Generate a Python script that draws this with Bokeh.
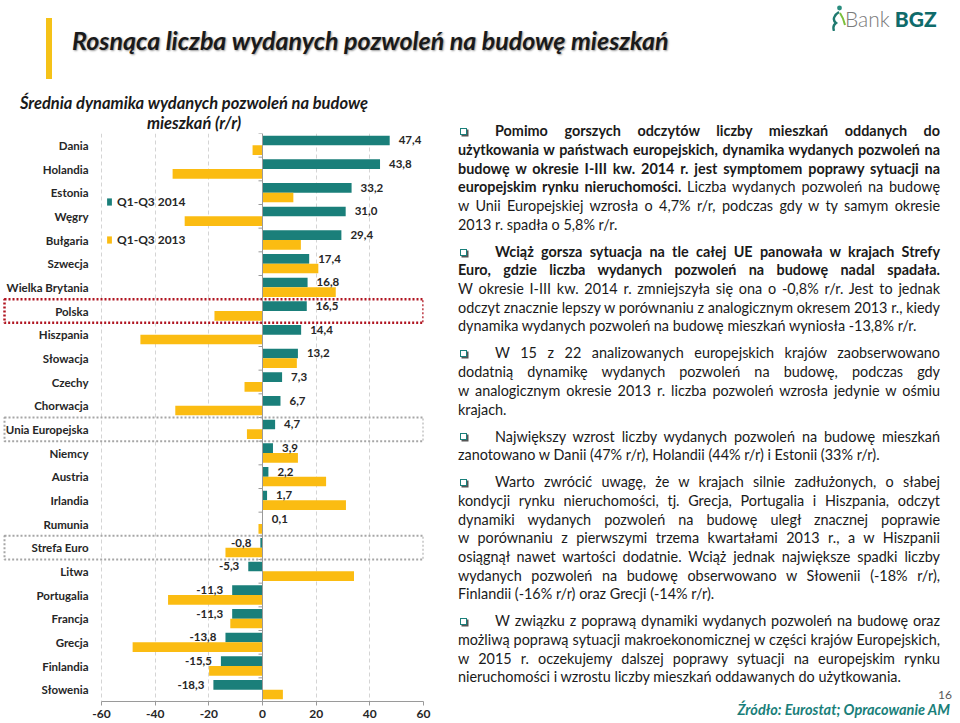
import math
from bokeh.plotting import figure
from bokeh.models import (Range1d, FixedTicker, BoxAnnotation, Span,
                          ColumnDataSource, Div)
from bokeh.layouts import column, row
from bokeh.transform import dodge
from bokeh.core.properties import value
from bokeh.embed import file_html
from bokeh.resources import INLINE

# ---------------- data ----------------
countries = ["Dania", "Holandia", "Estonia", "Węgry", "Bułgaria", "Szwecja",
             "Wielka Brytania", "Polska", "Hiszpania", "Słowacja", "Czechy",
             "Chorwacja", "Unia Europejska", "Niemcy", "Austria", "Irlandia",
             "Rumunia", "Strefa Euro", "Litwa", "Portugalia", "Francja",
             "Grecja", "Finlandia", "Słowenia"]
q2014 = [47.4, 43.8, 33.2, 31.0, 29.4, 17.4, 16.8, 16.5, 14.4, 13.2, 7.3, 6.7,
         4.7, 3.9, 2.2, 1.7, 0.1, -0.8, -5.3, -11.3, -11.3, -13.8, -15.5, -18.3]
q2013 = [-3.7, -33.5, 11.5, -29.0, 14.3, 20.8, 27.3, -17.9, -45.5, 12.8, -6.7,
         -32.5, -5.8, 13.2, 23.7, 31.1, -1.5, -13.8, 34.1, -35.2, -12.0, -48.4,
         -19.9, 7.6]
series_names = ["Q1-Q3 2014", "Q1-Q3 2013"]
x_ticks = [-60, -40, -20, 0, 20, 40, 60]
x_tick_labels = ["-60", "-40", "-20", "0", "20", "40", "60"]
box_red = ["Polska"]
box_gray = ["Unia Europejska", "Strefa Euro"]

TEAL = "#1a7f7a"
YELLOW = "#fbbc12"
FONT = "Lato"
TXT = "#262626"

n = len(countries)
pos = list(range(n))


def fmt(v):
    return f"{v:.1f}".replace(".", ",")


src = ColumnDataSource(dict(
    y=pos, v14=q2014, v13=q2013, country=countries,
    lab=[fmt(v) for v in q2014],
    align=["left" if v >= 0 else "right" for v in q2014],
    xo=[9 if v >= 0 else -9 for v in q2014],
))

# ---------------- chart ----------------
# frame spans from the left page edge; the value scale runs -60..60 on its right part
p = figure(width=448, height=592, x_range=Range1d(-97.64, 60),
           y_range=Range1d(n - 0.5, -0.5), output_backend="svg",
           toolbar_location=None, y_axis_location=None,
           min_border_left=0, min_border_right=25, min_border_top=2,
           min_border_bottom=22)
p.outline_line_color = None
p.background_fill_color = "white"
p.border_fill_color = "white"

p.xgrid.ticker = FixedTicker(ticks=x_ticks)
p.xgrid.grid_line_color = "#d4d4d4"
p.xgrid.grid_line_dash = "4 3"
p.ygrid.visible = False

xa = p.xaxis[0]
xa.ticker = FixedTicker(ticks=x_ticks)
xa.bounds = (x_ticks[0], x_ticks[-1])
xa.major_label_overrides = {t: l for t, l in zip(x_ticks, x_tick_labels)}
xa.axis_line_color = "#9a9a9a"
xa.major_tick_line_color = "#9a9a9a"
xa.major_tick_out = 4
xa.major_tick_in = 0
xa.minor_tick_line_color = None
xa.major_label_standoff = 4
xa.major_label_text_font = FONT
xa.major_label_text_font_style = "bold"
xa.major_label_text_font_size = "12px"
xa.major_label_text_color = TXT

# highlight boxes
for name in box_red:
    i = countries.index(name)
    p.add_layout(BoxAnnotation(left=4, left_units="canvas", right=x_ticks[-1],
                               top=i - 0.5, bottom=i + 0.5, fill_color=None,
                               line_color="#b01420", line_alpha=1.0, line_width=2.5,
                               line_dash="2 2"))
for name in box_gray:
    i = countries.index(name)
    p.add_layout(BoxAnnotation(left=4, left_units="canvas", right=x_ticks[-1],
                               top=i - 0.5, bottom=i + 0.5, fill_color=None,
                               line_color="#a6a6a6", line_alpha=1.0, line_width=2,
                               line_dash="2 2"))

# zero (category) axis line with boundary ticks
p.add_layout(Span(location=0, dimension="height", line_color="#9a9a9a", line_width=1))
p.ray(x=[0] * (n + 1), y=[i - 0.5 for i in range(n + 1)], length=4,
      length_units="screen", angle=math.pi, line_color="#9a9a9a", line_width=1)

p.hbar(y=dodge("y", -0.205, range=p.y_range), left=0, right="v14", height=0.41,
       fill_color=TEAL, line_color=None, source=src, legend_label=series_names[0])
p.hbar(y=dodge("y", 0.205, range=p.y_range), left=0, right="v13", height=0.41,
       fill_color=YELLOW, line_color=None, source=src, legend_label=series_names[1])

# value labels
p.text(x="v14", y=dodge("y", -0.205, range=p.y_range), text="lab",
       text_align="align", x_offset="xo", text_baseline="middle",
       text_font=value(FONT), text_font_style="bold", text_font_size="11.5px",
       text_color=TXT, source=src)

# category labels
p.text(x=x_ticks[0], y="y", text="country", x_offset=-13, text_align="right",
       text_baseline="middle", text_font=value(FONT), text_font_style="bold",
       text_font_size="11.5px", text_color=TXT, source=src)

lg = p.legend[0]
lg.location = (106, 454)
lg.background_fill_alpha = 0
lg.border_line_color = None
lg.padding = 0
lg.margin = 0
lg.spacing = 23
lg.glyph_width = 6
lg.glyph_height = 9
lg.label_height = 14
lg.label_standoff = 5
lg.label_text_font = FONT
lg.label_text_font_style = "bold"
lg.label_text_font_size = "12px"
lg.label_text_color = TXT

# ---------------- header ----------------
logo_svg = (
    '<svg width="16" height="26" viewBox="0 0 16 26">'
    '<circle cx="9.5" cy="3" r="2.4" fill="#2a8c7e"/>'
    '<path d="M9 7 C 4 10, 2 15, 6 18 C 3 20, 3 23, 4 26" stroke="#1f7a70" '
    'stroke-width="2.4" fill="none"/>'
    '<path d="M10 8 C 12 11, 14 15, 15 20" stroke="#7bbf3a" stroke-width="2" fill="none"/>'
    '</svg>'
)
header_html = f"""
<div style="position:relative;width:960px;height:88px;font-family:{FONT};">
  <div style="position:absolute;left:46px;top:18px;width:6px;height:61px;background:#f5c218;"></div>
  <div style="position:absolute;left:72px;top:25px;font-size:25px;line-height:30px;font-weight:bold;
       font-style:italic;color:#1a1a1a;text-shadow:1px 1px 2px #9a9a9a;white-space:nowrap;">
       Rosnąca liczba wydanych pozwoleń na budowę mieszkań</div>
  <div style="position:absolute;left:830px;top:5px;">{logo_svg}</div>
  <div style="position:absolute;left:845px;top:7px;font-size:21px;line-height:23px;white-space:nowrap;">
     <span style="color:#7a7a7a;font-weight:300;">Bank</span><span
      style="color:#0f6b6b;font-weight:900;margin-left:5px;">BGZ</span></div>
</div>
"""
header = Div(text=header_html, width=960, height=88, margin=(0, 0, 0, 0))

sub_html = f"""
<div style="position:relative;width:448px;height:43px;font-family:{FONT};">
  <div style="position:absolute;left:0;top:5px;width:388px;text-align:center;font-size:16.5px;
       line-height:20px;font-weight:bold;font-style:italic;color:#1a1a1a;">
    Średnia dynamika wydanych pozwoleń na budowę<br>mieszkań (r/r)</div>
</div>
"""
subtitle = Div(text=sub_html, width=448, height=43, margin=(0, 0, 0, 0))

# ---------------- right text ----------------
paras = [
    [[("Pomimo gorszych odczytów liczby mieszkań oddanych do", True)],
     [("użytkowania w państwach europejskich, dynamika wydanych pozwoleń na", True)],
     [("budowę w okresie I-III kw. 2014 r. jest symptomem poprawy sytuacji na", True)],
     [("europejskim rynku nieruchomości.", True), (" Liczba wydanych pozwoleń na budowę", False)],
     [("w Unii Europejskiej wzrosła o 4,7% r/r, podczas gdy w ty samym okresie", False)],
     [("2013 r. spadła o 5,8% r/r.", False)]],
    [[("Wciąż gorsza sytuacja na tle całej UE panowała w krajach Strefy", True)],
     [("Euro, gdzie liczba wydanych pozwoleń na budowę nadal spadała.", True)],
     [("W okresie I-III kw. 2014 r. zmniejszyła się ona o -0,8% r/r. Jest to jednak", False)],
     [("odczyt znacznie lepszy w porównaniu z analogicznym okresem 2013 r., kiedy", False)],
     [("dynamika wydanych pozwoleń na budowę mieszkań wyniosła -13,8% r/r.", False)]],
    [[("W 15 z 22 analizowanych europejskich krajów zaobserwowano", False)],
     [("dodatnią dynamikę wydanych pozwoleń na budowę, podczas gdy", False)],
     [("w analogicznym okresie 2013 r. liczba pozwoleń wzrosła jedynie w ośmiu", False)],
     [("krajach.", False)]],
    [[("Największy wzrost liczby wydanych pozwoleń na budowę mieszkań", False)],
     [("zanotowano w Danii (47% r/r), Holandii (44% r/r) i Estonii (33% r/r).", False)]],
    [[("Warto zwrócić uwagę, że w krajach silnie zadłużonych, o słabej", False)],
     [("kondycji rynku nieruchomości, tj. Grecja, Portugalia i Hiszpania, odczyt", False)],
     [("dynamiki wydanych pozwoleń na budowę uległ znacznej poprawie", False)],
     [("w porównaniu z pierwszymi trzema kwartałami 2013 r., a w Hiszpanii", False)],
     [("osiągnął nawet wartości dodatnie. Wciąż jednak największe spadki liczby", False)],
     [("wydanych pozwoleń na budowę obserwowano w Słowenii (-18% r/r),", False)],
     [("Finlandii (-16% r/r) oraz Grecji (-14% r/r).", False)]],
    [[("W związku z poprawą dynamiki wydanych pozwoleń na budowę oraz", False)],
     [("możliwą poprawą sytuacji makroekonomicznej w części krajów Europejskich,", False)],
     [("w 2015 r. oczekujemy dalszej poprawy sytuacji na europejskim rynku", False)],
     [("nieruchomości i wzrostu liczby mieszkań oddawanych do użytkowania.", False)]],
]

box = ('<span style="display:inline-block;width:7px;height:7px;border:1.5px solid #1a7f7a;'
       'box-shadow:1.5px 1.5px 0 #555;margin-left:2px;margin-right:28px;'
       'vertical-align:middle;position:relative;top:-1px;"></span>')

parts = []
for pi, para in enumerate(paras):
    mt = 0 if pi == 0 else 8.3
    parts.append(f'<div style="margin-top:{mt}px;">')
    for li, line in enumerate(para):
        last = li == len(para) - 1
        al = "text-align:left;" if last else "text-align:justify;text-align-last:justify;"
        segs = "".join(
            f'<span style="font-weight:{"bold" if b else "normal"};">{t}</span>' for t, b in line)
        pre = box if li == 0 else ""
        parts.append(f'<div style="white-space:nowrap;{al}height:18.7px;line-height:18.7px;">{pre}{segs}</div>')
    parts.append('</div>')

text_html = f"""
<div style="position:relative;width:512px;height:635px;font-family:{FONT};font-size:14.4px;color:#1a1a1a;">
  <div style="position:absolute;left:10px;top:34.3px;width:482px;">{''.join(parts)}</div>
  <div style="position:absolute;right:8px;top:601px;font-size:12px;line-height:12px;color:#595959;">16</div>
  <div style="position:absolute;right:10px;top:614px;font-size:14.5px;line-height:16px;color:#1a7f7a;
       font-weight:bold;font-style:italic;white-space:nowrap;">Źródło: Eurostat; Opracowanie AM</div>
</div>
"""
textdiv = Div(text=text_html, width=512, height=635, margin=(0, 0, 0, 0))

layout = column(header, row(column(subtitle, p, spacing=0), textdiv, spacing=0), spacing=0)

open("out.html", "w").write(file_html(layout, INLINE, "Pozwolenia na budowę"))
